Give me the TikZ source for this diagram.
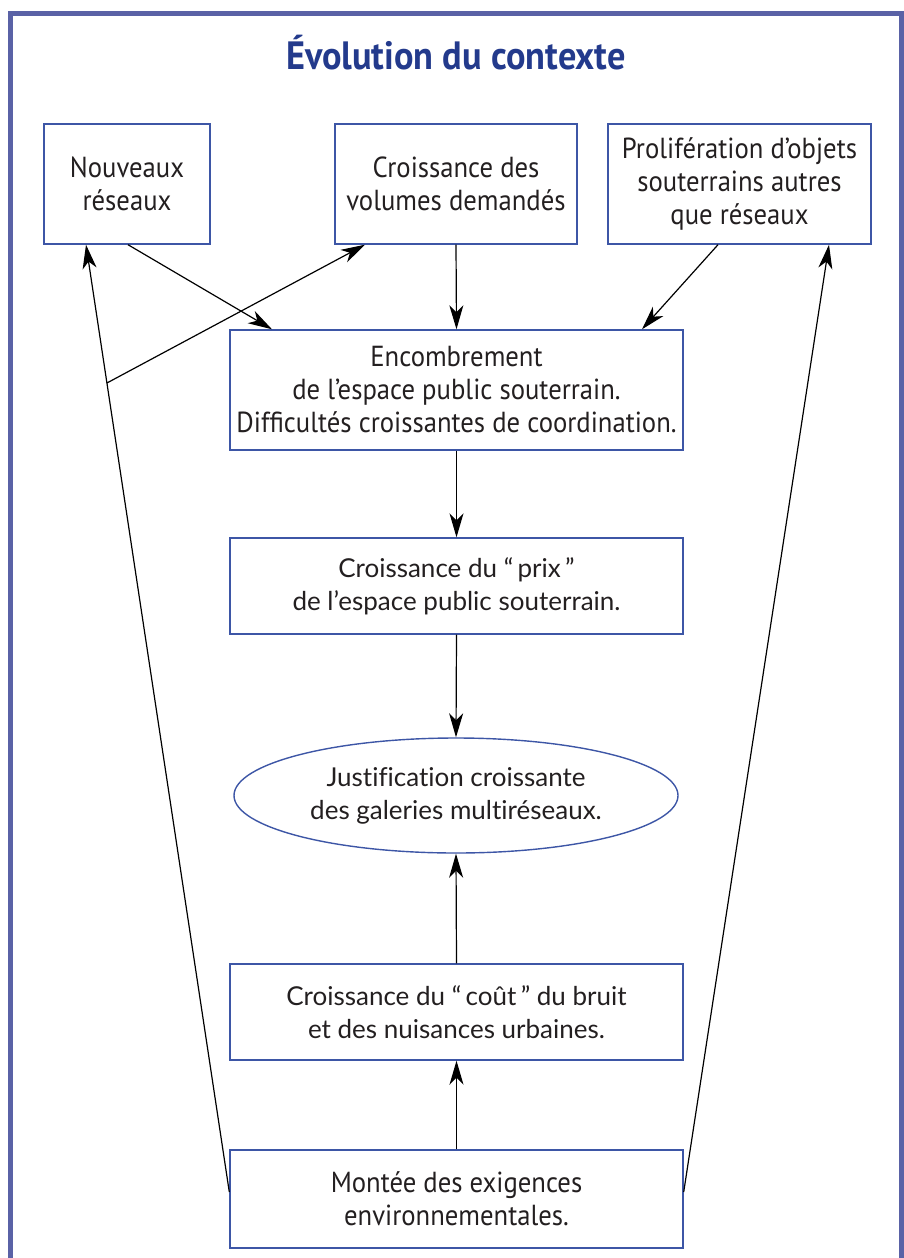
\documentclass[tikz,border=0pt]{standalone}
\usepackage{fontspec}
\setmainfont{PT Sans}[FakeStretch=0.92]
\newfontfamily\widefont{Lato}[Ligatures=CommonOff]
\usetikzlibrary{arrows.meta,shapes.geometric}
\definecolor{framec}{HTML}{5A62A6}
\definecolor{boxc}{HTML}{3D56A6}
\definecolor{titlec}{HTML}{233A8C}
\definecolor{txtc}{HTML}{231F20}
\tikzset{
  box/.style={draw=boxc, line width=1.4pt, rectangle, align=center, text=txtc,
    font=\fontsize{29}{33}\selectfont, inner sep=0pt},
  widebox/.style={box, font=\widefont\fontsize{26}{33}\selectfont},
  conn/.style={draw=black, line width=1.2pt, -{Stealth[length=24pt,width=14pt,inset=7pt]}},
}
\begin{document}
\begin{tikzpicture}[x=1pt,y=-1pt]
\useasboundingbox (0,0) rectangle (904,1258);
\begin{scope}
\clip (0,0) rectangle (904,1258);
\draw[framec, line width=5pt] (10.5,1300) -- (10.5,13) -- (901.5,13) -- (901.5,1300);
\end{scope}
\node[font=\bfseries\fontsize{39.5}{42}\selectfont, text=titlec] (title) at (456,53) {Évolution du contexte};
\node[box, minimum width=166pt, minimum height=120pt] (b1) at (127,184) {Nouveaux\\réseaux};
\node[box, minimum width=242pt, minimum height=120pt] (b2) at (456,184) {Croissance des\\volumes demandés};
\node[box, minimum width=263pt, minimum height=120pt] (b3) at (739.5,184) {Prolifération d'objets\\souterrains autres\\que réseaux};
\node[box, minimum width=453pt, minimum height=120pt] (b4) at (456.5,390) {Encombrement\\de l'espace public souterrain.\\Difficultés croissantes de coordination.};
\node[widebox, minimum width=453pt, minimum height=96pt] (b5) at (456.5,586) {Croissance du “\,prix\,”\\de l’espace public souterrain.};
\node[widebox, ellipse, minimum width=444pt, minimum height=115pt] (ell) at (456,795.5) {Justification croissante\\des galeries multiréseaux.};
\node[widebox, minimum width=453pt, minimum height=96pt] (b6) at (456.5,1012) {Croissance du “\,coût\,” du bruit\\et des nuisances urbaines.};
\node[box, minimum width=453pt, minimum height=98pt] (b7) at (456.5,1199) {Montée des exigences\\environnementales.};
% connectors
\draw[conn] ([xshift=1pt]b1.south) -- ([xshift=-184.5pt]b4.north);
\draw[conn] (b2.south) -- (b4.north);
\draw[conn] ([xshift=-21.5pt]b3.south) -- ([xshift=185.5pt]b4.north);
\draw[conn] (b4.south) -- (b5.north);
\draw[conn] (b5.south) -- (ell.north);
\draw[conn] (b6.north) -- (ell.south);
\draw[conn] (b7.north) -- (b6.south);
\draw[conn] ([yshift=7pt]b7.west) -- coordinate[pos=0.854] (br) ([xshift=-41pt]b1.south);
\draw[conn] ([yshift=7pt]b7.east) -- ([xshift=89.5pt]b3.south);
\draw[conn] (br) -- ([xshift=-91pt]b2.south);
\end{tikzpicture}
\end{document}
